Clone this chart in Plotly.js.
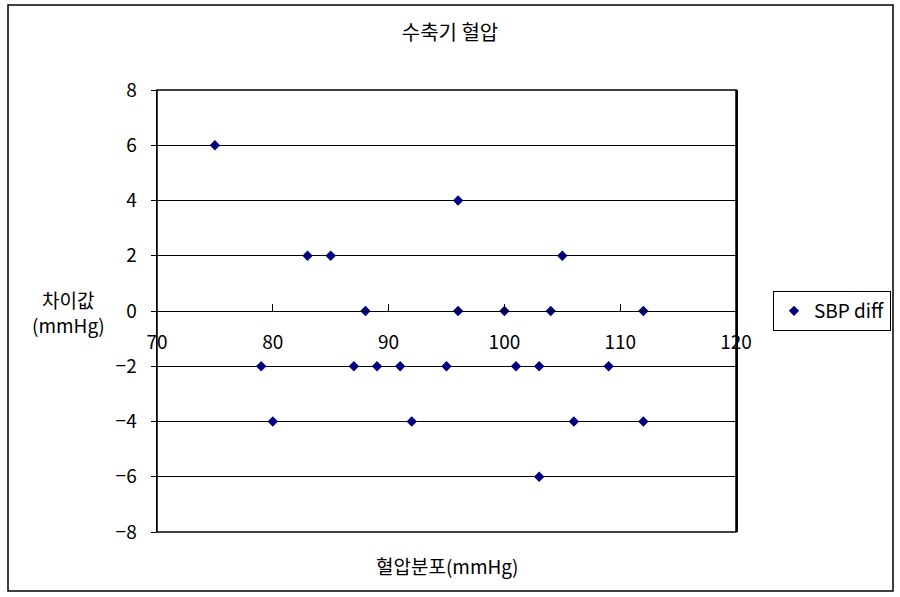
<!DOCTYPE html>
<html>
<head>
<meta charset="utf-8">
<script src="https://cdn.plot.ly/plotly-3.0.1.min.js"></script>
<style>
  html, body { margin: 0; padding: 0; background: #fff; }
  #chart { width: 900px; height: 597px; }
</style>
</head>
<body>
<div id="chart"></div>
<script>
// Systolic blood pressure: mean level (x) vs. difference (y)
const seriesName = 'SBP diff';
const bpLevel = [75, 96, 83, 85, 105, 88, 96, 100, 104, 112,
                 79, 87, 89, 91, 95, 101, 103, 109,
                 80, 92, 106, 112, 103];
const bpDiff  = [6, 4, 2, 2, 2, 0, 0, 0, 0, 0,
                 -2, -2, -2, -2, -2, -2, -2, -2,
                 -4, -4, -4, -4, -6];
const xTicks = [70, 80, 90, 100, 110, 120];
const yTicks = [-8, -6, -4, -2, 0, 2, 4, 6, 8];

const chartTitle = '수축기 혈압';
const xTitle = '혈압분포(mmHg)';
const yTitle = '차이값<br>(mmHg)';

const FONT = '"Noto Sans CJK KR", "DejaVu Sans", sans-serif';

const trace = {
  type: 'scatter',
  mode: 'markers',
  name: seriesName,
  x: bpLevel,
  y: bpDiff,
  marker: { symbol: 'diamond', size: 8, color: '#000080' },
  showlegend: true
};

const layout = {
  width: 900,
  height: 597,
  margin: { l: 157, r: 164, t: 90, b: 65, autoexpand: false },
  paper_bgcolor: '#fff',
  plot_bgcolor: '#fff',
  font: { family: FONT, color: '#000', size: 18 },
  title: {
    text: chartTitle,
    font: { family: FONT, size: 20, color: '#000' },
    x: 0.5, xanchor: 'center',
    y: 1 - 33 / 597, yanchor: 'middle', yref: 'container'
  },
  xaxis: {
    range: [70, 120],
    tickvals: xTicks,
    ticktext: xTicks.map(String),
    anchor: 'free',
    position: 0.5,
    showgrid: false,
    zeroline: false,
    showline: true,
    linecolor: '#000',
    linewidth: 1,
    ticks: 'inside',
    ticklen: 7,
    tickcolor: '#000',
    ticklabelstandoff: 14,
    tickfont: { family: FONT, size: 19, color: '#000' },
    fixedrange: true
  },
  yaxis: {
    range: [-8, 8],
    tickvals: yTicks,
    ticktext: yTicks.map(v => v < 0 ? '\u2212' + Math.abs(v) : String(v)),
    showgrid: true,
    gridcolor: '#000',
    gridwidth: 1,
    zeroline: false,
    showline: true,
    mirror: true,
    linecolor: '#000',
    linewidth: 1.5,
    ticks: 'outside',
    ticklen: 5,
    tickcolor: '#000',
    ticklabelstandoff: 10,
    tickfont: { family: FONT, size: 19, color: '#000' },
    fixedrange: true
  },
  legend: {
    x: (773 - 157) / 579,
    xanchor: 'left',
    y: 0.5,
    yanchor: 'middle',
    bgcolor: '#fff',
    bordercolor: '#000',
    borderwidth: 1,
    font: { family: FONT, size: 19, color: '#000' },
    itemwidth: 30
  },
  shapes: [
    // plot-area frame
    { type: 'rect', xref: 'x domain', yref: 'y domain', x0: 0, x1: 1, y0: 0, y1: 1,
      line: { color: '#000', width: 1.5 }, fillcolor: 'rgba(0,0,0,0)', layer: 'above' },
    // chart-area frame
    { type: 'rect', xref: 'paper', yref: 'paper',
      x0: (8 - 157) / 579, x1: (893 - 157) / 579,
      y0: (532 - 591) / 442, y1: (532 - 5) / 442,
      line: { color: '#000', width: 1.5 }, fillcolor: 'rgba(0,0,0,0)' }
  ],
  annotations: [
    { text: yTitle, xref: 'paper', yref: 'paper',
      x: (68 - 157) / 579, y: (532 - 312) / 442,
      xanchor: 'center', yanchor: 'middle', showarrow: false, align: 'center',
      font: { family: FONT, size: 19, color: '#000' } },
    { text: xTitle, xref: 'paper', yref: 'paper',
      x: (447 - 157) / 579, y: (532 - 565) / 442,
      xanchor: 'center', yanchor: 'middle', showarrow: false,
      font: { family: FONT, size: 19, color: '#000' } }
  ]
};

Plotly.newPlot('chart', [trace], layout, { displayModeBar: false, staticPlot: true });
</script>
</body>
</html>
